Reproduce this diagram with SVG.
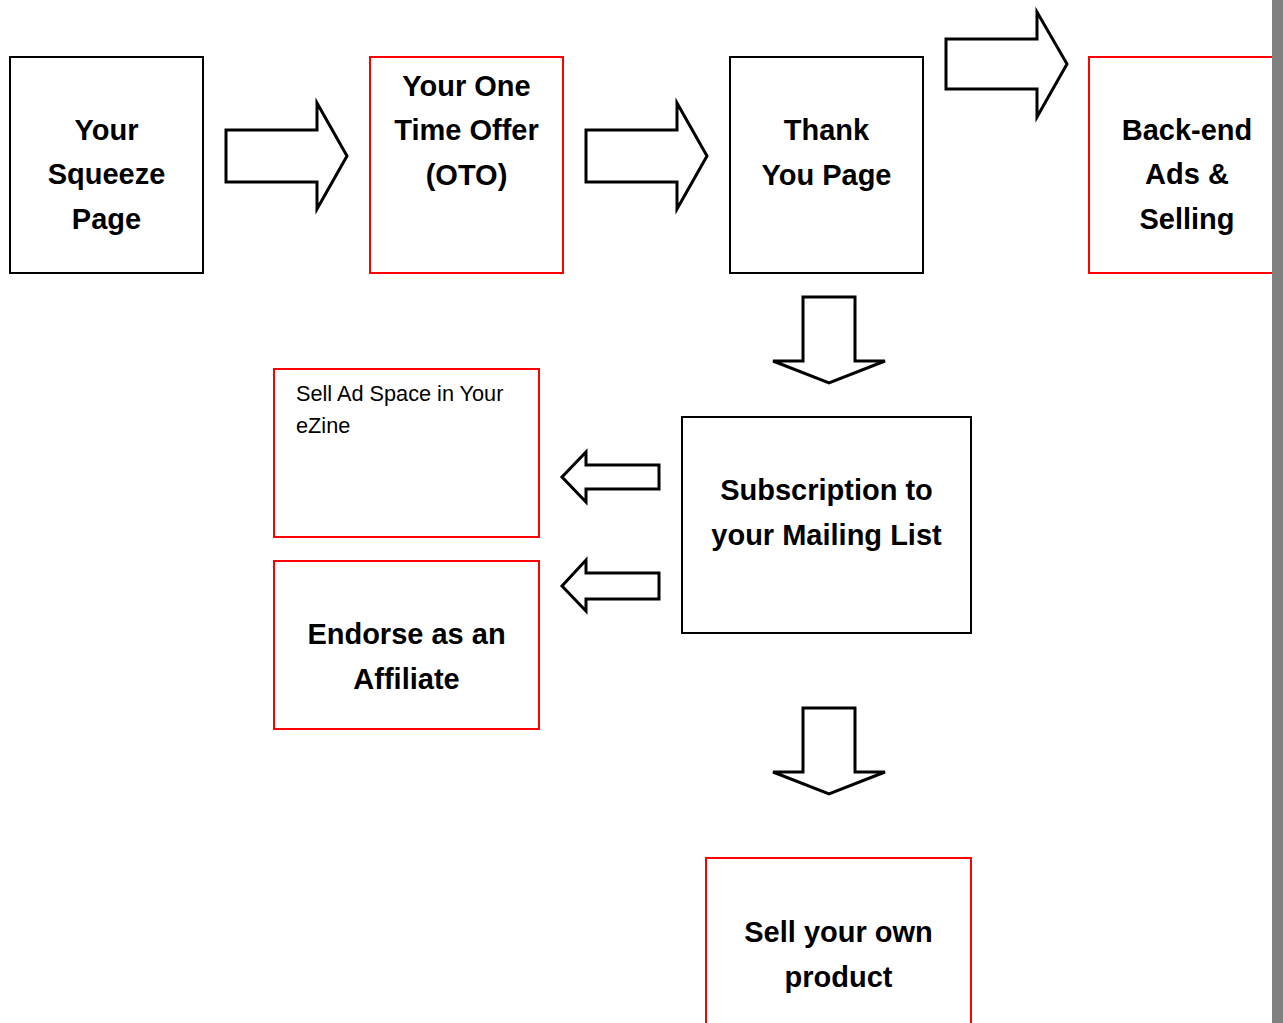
<svg xmlns="http://www.w3.org/2000/svg" width="1283" height="1023" viewBox="0 0 1283 1023">
<style>
.box{fill:#fff;stroke-width:2}
.blk{stroke:#000}
.red{stroke:#ff0000}
.t{font-family:"Liberation Sans",Arial,sans-serif;font-weight:bold;font-size:29px;fill:#000;text-anchor:middle}
.s{font-family:"Liberation Sans",Arial,sans-serif;font-size:21.7px;fill:#000}
.arr{fill:#fff;stroke:#000;stroke-width:3;stroke-linejoin:miter}
</style>
<rect width="1283" height="1023" fill="#fff"/>
<g id="squeeze"><rect class="box blk" x="10" y="57" width="193" height="216"/>
<text class="t" x="106.5" y="140">Your</text><text class="t" x="106.5" y="184">Squeeze</text><text class="t" x="106.5" y="229">Page</text></g>
<g id="oto"><rect class="box red" x="370" y="57" width="193" height="216"/>
<text class="t" x="466.5" y="96">Your One</text><text class="t" x="466.5" y="140">Time Offer</text><text class="t" x="466.5" y="185">(OTO)</text></g>
<g id="thankyou"><rect class="box blk" x="730" y="57" width="193" height="216"/>
<text class="t" x="826.5" y="140">Thank</text><text class="t" x="826.5" y="185">You Page</text></g>
<g id="backend"><rect class="box red" x="1089" y="57" width="200" height="216"/>
<text class="t" x="1187" y="140">Back-end</text><text class="t" x="1187" y="184">Ads &amp;</text><text class="t" x="1187" y="229">Selling</text></g>
<g id="adspace"><rect class="box red" x="274" y="369" width="265" height="168"/>
<text class="s" x="296" y="401">Sell Ad Space in Your</text><text class="s" x="296" y="433">eZine</text></g>
<g id="endorse"><rect class="box red" x="274" y="561" width="265" height="168"/>
<text class="t" x="406.5" y="644">Endorse as an</text><text class="t" x="406.5" y="689">Affiliate</text></g>
<g id="subscription"><rect class="box blk" x="682" y="417" width="289" height="216"/>
<text class="t" x="826.5" y="500">Subscription to</text><text class="t" x="826.5" y="545">your Mailing List</text></g>
<g id="ownproduct"><rect class="box red" x="706" y="858" width="265" height="180"/>
<text class="t" x="838.5" y="942">Sell your own</text><text class="t" x="838.5" y="987">product</text></g>
<g id="connectors">
<polygon class="arr" points="226,130 317,130 317,103 347,156 317,209 317,182 226,182"/>
<polygon class="arr" points="586,130 677,130 677,103 707,156 677,209 677,182 586,182"/>
<polygon class="arr" points="946,39 1037,39 1037,12 1067,64 1037,117 1037,89 946,89"/>
<polygon class="arr" points="803,297 855,297 855,361 885,361 829,383 773,361 803,361"/>
<polygon class="arr" points="803,708 855,708 855,772 885,772 829,794 773,772 803,772"/>
<polygon class="arr" points="659,465 586,465 586,452 562,477 586,502 586,489 659,489"/>
<polygon class="arr" points="659,573 586,573 586,560 562,586 586,611 586,599 659,599"/>
</g>
<rect x="1272" y="0" width="11" height="1023" fill="#808080"/>
</svg>
